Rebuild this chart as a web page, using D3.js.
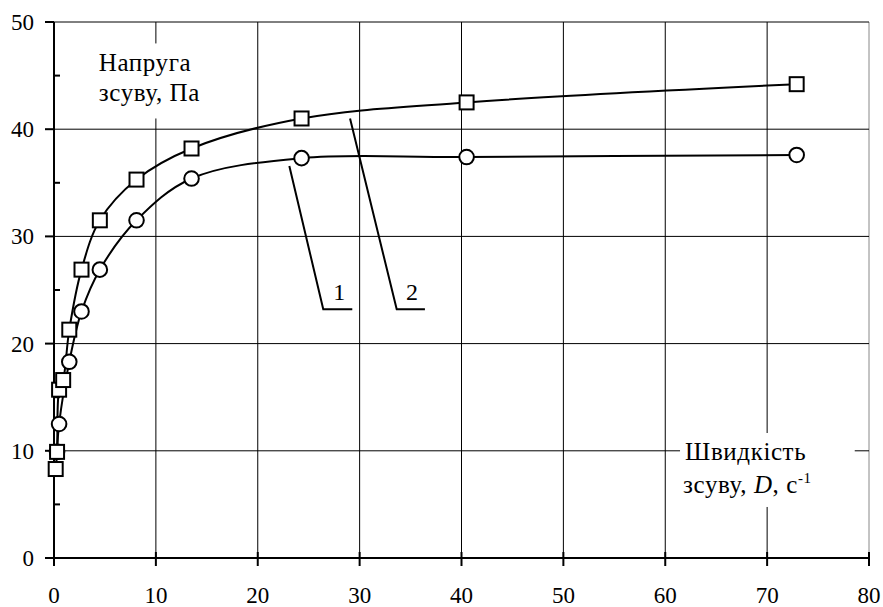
<!DOCTYPE html>
<html><head><meta charset="utf-8">
<script src="https://cdn.jsdelivr.net/npm/d3@7/dist/d3.min.js"></script>
<style>body{margin:0;background:#fff}svg{display:block}
text{font-family:"Liberation Serif","Times New Roman",serif;}</style>
</head><body>
<svg id="c" width="883" height="607"></svg>
<script>
// ---- data ----
const shearRate2 = [0.1667, 0.3, 0.5, 0.9, 1.5, 2.7, 4.5, 8.1, 13.5, 24.3, 40.5, 72.9];
const stress2    = [8.3, 9.9, 15.7, 16.6, 21.3, 26.9, 31.5, 35.3, 38.2, 41.0, 42.5, 44.2];
const shearRate1 = [0.3, 0.5, 1.5, 2.7, 4.5, 8.1, 13.5, 24.3, 40.5, 72.9];
const stress1    = [9.9, 12.5, 18.3, 23.0, 26.9, 31.5, 35.4, 37.3, 37.4, 37.6];
const xTicks = [0, 10, 20, 30, 40, 50, 60, 70, 80];
const yTicks = [0, 10, 20, 30, 40, 50];
const yMinor = [5, 15, 25, 35, 45];
const yLabel = ["Напруга", "зсуву, Па"];
const xLabel = ["Швидкість", "зсуву, "];
const seriesNames = ["1", "2"];

const W = 883, H = 607;
const m = {left: 54, right: 14, top: 22, bottom: 49};
const svg = d3.select("#c");
const x = d3.scaleLinear().domain([0, 80]).range([m.left, W - m.right]);
const y = d3.scaleLinear().domain([0, 50]).range([H - m.bottom, m.top]);

// grid
const g = svg.append("g");
g.selectAll(".vg").data(xTicks.slice(1)).join("line")
  .attr("x1", d => x(d)).attr("x2", d => x(d)).attr("y1", y(0)).attr("y2", y(50))
  .attr("stroke", d => d === 80 ? "#888" : "#000").attr("stroke-width", 1);
g.selectAll(".hg").data(yTicks.slice(1)).join("line")
  .attr("x1", x(0)).attr("x2", x(80)).attr("y1", d => y(d)).attr("y2", d => y(d))
  .attr("stroke", "#000").attr("stroke-width", 1);

// white boxes behind labels
svg.append("rect").attr("x", x(3.7)).attr("y", y(48.0)).attr("width", x(15.8) - x(3.7)).attr("height", y(41.0) - y(48.0)).attr("fill", "#fff");
svg.append("rect").attr("x", x(61.45)).attr("y", y(11.66)).attr("width", x(78.6) - x(61.45)).attr("height", y(4.76) - y(11.66)).attr("fill", "#fff");

// axes
svg.append("line").attr("x1", x(0)).attr("x2", x(0)).attr("y1", y(0) + 1).attr("y2", y(50)).attr("stroke", "#000").attr("stroke-width", 2);
svg.append("line").attr("x1", x(0) - 1).attr("x2", x(80)).attr("y1", y(0)).attr("y2", y(0)).attr("stroke", "#000").attr("stroke-width", 2);
svg.selectAll(".yt").data(yTicks).join("line")
  .attr("x1", x(0) - 9).attr("x2", x(0)).attr("y1", d => y(d)).attr("y2", d => y(d)).attr("stroke", "#000").attr("stroke-width", 2);
svg.selectAll(".ym").data(yMinor).join("line")
  .attr("x1", x(0)).attr("x2", x(0) + 6).attr("y1", d => y(d)).attr("y2", d => y(d)).attr("stroke", "#000").attr("stroke-width", 2);
svg.selectAll(".xt").data(xTicks).join("line")
  .attr("x1", d => x(d)).attr("x2", d => x(d)).attr("y1", y(0) - 6).attr("y2", y(0) + 8).attr("stroke", "#000").attr("stroke-width", 2);

svg.selectAll(".ytl").data(yTicks).join("text")
  .attr("x", x(0) - 20).attr("y", d => y(d)).attr("dy", "0.35em").attr("text-anchor", "end")
  .attr("font-size", 23).text(d => d);
svg.selectAll(".xtl").data(xTicks).join("text")
  .attr("x", d => x(d)).attr("y", H - 4).attr("text-anchor", "middle")
  .attr("font-size", 23).text(d => d);

// lines
const line = d3.line().x(d => x(d[0])).y(d => y(d[1])).curve(d3.curveCatmullRom.alpha(0.5));
const s1 = shearRate1.map((v, i) => [v, stress1[i]]);
const s2 = shearRate2.map((v, i) => [v, stress2[i]]);
svg.append("path").attr("d", line(s1)).attr("fill", "none").attr("stroke", "#000").attr("stroke-width", 2);
svg.append("path").attr("d", line(s2)).attr("fill", "none").attr("stroke", "#000").attr("stroke-width", 2);

svg.selectAll(".c1").data(s1).join("circle")
  .attr("cx", d => x(d[0])).attr("cy", d => y(d[1])).attr("r", 7.3)
  .attr("fill", "#fff").attr("stroke", "#000").attr("stroke-width", 2);
svg.selectAll(".s2").data(s2).join("rect")
  .attr("x", d => x(d[0]) - 7).attr("y", d => y(d[1]) - 7).attr("width", 14).attr("height", 14)
  .attr("fill", "#fff").attr("stroke", "#000").attr("stroke-width", 2);

// leaders
const leaders = [
  {pts: [[23.1, 36.57], [26.43, 23.2], [29.28, 23.2]], label: seriesNames[0], lx: 28.0, ly: 24.1},
  {pts: [[29.06, 41.0], [33.64, 23.2], [36.41, 23.2]], label: seriesNames[1], lx: 35.15, ly: 24.1}
];
leaders.forEach(l => {
  svg.append("path").attr("d", d3.line().x(d => x(d[0])).y(d => y(d[1]))(l.pts))
    .attr("fill", "none").attr("stroke", "#000").attr("stroke-width", 2);
  svg.append("text").attr("x", x(l.lx)).attr("y", y(l.ly)).attr("text-anchor", "middle")
    .attr("font-size", 24).text(l.label);
});

// axis labels
const t1 = svg.append("text").attr("font-size", 25).attr("letter-spacing", 0.6);
t1.append("tspan").attr("x", x(4.4)).attr("y", y(45.45)).text(yLabel[0]);
t1.append("tspan").attr("x", x(4.4)).attr("y", y(42.65)).text(yLabel[1]);

const t2 = svg.append("text").attr("font-size", 25).attr("letter-spacing", 0.6);
t2.append("tspan").attr("x", x(61.95)).attr("y", y(9.15)).text(xLabel[0]);
t2.append("tspan").attr("x", x(61.75)).attr("y", y(6.1)).text(xLabel[1]);
t2.append("tspan").attr("font-style", "italic").text("D");
t2.append("tspan").text(", с");
t2.append("tspan").attr("font-size", 15).attr("dy", -10).text("-1");
</script>
</body></html>
